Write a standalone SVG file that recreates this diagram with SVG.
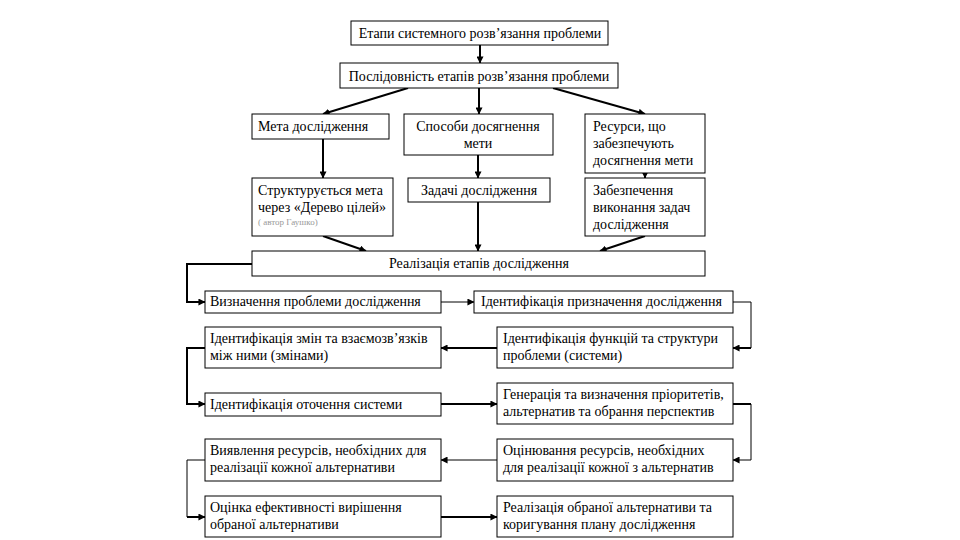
<svg xmlns="http://www.w3.org/2000/svg" width="960" height="540" viewBox="0 0 960 540">
<defs>
<marker id="ah" viewBox="0 0 8 8" refX="7.5" refY="4" markerWidth="7" markerHeight="7" markerUnits="userSpaceOnUse" orient="auto">
<path d="M0,0 L8,4 L0,8 Z" fill="#000"/>
</marker>
</defs>
<style>
.box{fill:#fff;stroke:#000;stroke-width:1}
.t{font-family:"Liberation Serif","Times New Roman",serif;font-size:14px;fill:#000}
.c{text-anchor:middle}
.note{font-family:"Liberation Serif","Times New Roman",serif;font-size:9px;fill:#999}
.k{fill:none;stroke:#000;stroke-width:2}
.n{fill:none;stroke:#000;stroke-width:1}
</style>
<rect width="960" height="540" fill="#fff"/>
<g id="connectors">
<line class="k" x1="480" y1="45" x2="480" y2="63" marker-end="url(#ah)"/>
<line class="k" x1="408" y1="88" x2="323" y2="114" marker-end="url(#ah)"/>
<line class="k" x1="479" y1="88" x2="479" y2="114" marker-end="url(#ah)"/>
<line class="k" x1="553" y1="88" x2="645" y2="114" marker-end="url(#ah)"/>
<line class="k" x1="323" y1="139" x2="323" y2="178" marker-end="url(#ah)"/>
<line class="k" x1="478" y1="155" x2="478" y2="178" marker-end="url(#ah)"/>
<line class="k" x1="645" y1="173" x2="645" y2="178" marker-end="url(#ah)"/>
<line class="k" x1="323" y1="236" x2="366" y2="251" marker-end="url(#ah)"/>
<line class="k" x1="478" y1="202" x2="478" y2="251" marker-end="url(#ah)"/>
<line class="k" x1="645" y1="236" x2="600" y2="251" marker-end="url(#ah)"/>
<polyline class="k" points="252,264 187,264 187,302 205,302" marker-end="url(#ah)"/>
<line class="n" x1="441" y1="302" x2="474" y2="302" marker-end="url(#ah)"/>
<polyline class="n" points="733,302 751,302 751,348"/>
<line class="k" x1="751" y1="348" x2="733" y2="348" marker-end="url(#ah)"/>
<line class="k" x1="497" y1="348" x2="441" y2="348" marker-end="url(#ah)"/>
<polyline class="k" points="205,348 187,348 187,404 205,404" marker-end="url(#ah)"/>
<line class="k" x1="441" y1="404" x2="497" y2="404" marker-end="url(#ah)"/>
<polyline class="k" points="733,404 751,404"/>
<polyline class="n" points="751,404 751,460 733,460" marker-end="url(#ah)"/>
<line class="n" x1="497" y1="460" x2="441" y2="460" marker-end="url(#ah)"/>
<polyline class="n" points="205,460 187,460 187,517"/>
<line class="k" x1="187" y1="517" x2="205" y2="517" marker-end="url(#ah)"/>
<line class="k" x1="441" y1="517" x2="497" y2="517" marker-end="url(#ah)"/>
</g>
<g id="n1"><rect class="box" x="351" y="21" width="257" height="24"/><text class="t c" x="480" y="38">Етапи системного розв’язання проблеми</text></g>
<g id="n2"><rect class="box" x="340" y="63" width="278" height="25"/><text class="t c" x="479" y="81">Послідовність етапів розв’язання проблеми</text></g>
<g id="n3"><rect class="box" x="252" y="114" width="137" height="25"/><text class="t" x="258" y="131">Мета дослідження</text></g>
<g id="n4"><rect class="box" x="404" y="114" width="149" height="41"/><text class="t c" x="478" y="131">Способи досягнення</text><text class="t c" x="478" y="148">мети</text></g>
<g id="n5"><rect class="box" x="585" y="114" width="120" height="59"/><text class="t" x="593" y="131">Ресурси, що</text><text class="t" x="593" y="148">забезпечують</text><text class="t" x="593" y="165">досягнення мети</text></g>
<g id="n6"><rect class="box" x="252" y="178" width="141" height="58"/><text class="t" x="258" y="195">Структурується мета</text><text class="t" x="258" y="212">через «Дерево цілей»</text><text class="note" x="258" y="225">( автор Гаушко)</text></g>
<g id="n7"><rect class="box" x="408" y="178" width="142" height="24"/><text class="t c" x="479" y="195">Задачі дослідження</text></g>
<g id="n8"><rect class="box" x="585" y="178" width="120" height="58"/><text class="t" x="593" y="195">Забезпечення</text><text class="t" x="593" y="212">виконання задач</text><text class="t" x="593" y="229">дослідження</text></g>
<g id="n9"><rect class="box" x="252" y="251" width="453" height="25"/><text class="t c" x="479" y="268">Реалізація етапів дослідження</text></g>
<g id="n10"><rect class="box" x="205" y="291" width="236" height="22"/><text class="t" x="210" y="306">Визначення проблеми дослідження</text></g>
<g id="n11"><rect class="box" x="474" y="291" width="259" height="22"/><text class="t" x="481" y="306">Ідентифікація призначення дослідження</text></g>
<g id="n12"><rect class="box" x="205" y="327" width="236" height="41"/><text class="t" x="210" y="343">Ідентифікація змін та взаємозв’язків</text><text class="t" x="210" y="360">між ними (змінами)</text></g>
<g id="n13"><rect class="box" x="497" y="327" width="236" height="41"/><text class="t" x="503" y="343">Ідентифікація функцій та структури</text><text class="t" x="503" y="360">проблеми (системи)</text></g>
<g id="n14"><rect class="box" x="205" y="393" width="236" height="23"/><text class="t" x="210" y="409">Ідентифікація оточення системи</text></g>
<g id="n15"><rect class="box" x="497" y="383" width="236" height="41"/><text class="t" x="503" y="399">Генерація та визначення пріоритетів,</text><text class="t" x="503" y="416">альтернатив та обрання перспектив</text></g>
<g id="n16"><rect class="box" x="205" y="439" width="236" height="42"/><text class="t" x="210" y="455">Виявлення ресурсів, необхідних для</text><text class="t" x="210" y="472">реалізації кожної альтернативи</text></g>
<g id="n17"><rect class="box" x="497" y="439" width="236" height="42"/><text class="t" x="503" y="455">Оцінювання ресурсів, необхідних</text><text class="t" x="503" y="472">для реалізації кожної з альтернатив</text></g>
<g id="n18"><rect class="box" x="205" y="496" width="236" height="41"/><text class="t" x="210" y="512">Оцінка ефективності вирішення</text><text class="t" x="210" y="529">обраної альтернативи</text></g>
<g id="n19"><rect class="box" x="497" y="496" width="236" height="41"/><text class="t" x="503" y="512">Реалізація обраної альтернативи та</text><text class="t" x="503" y="529">коригування плану дослідження</text></g>
</svg>
